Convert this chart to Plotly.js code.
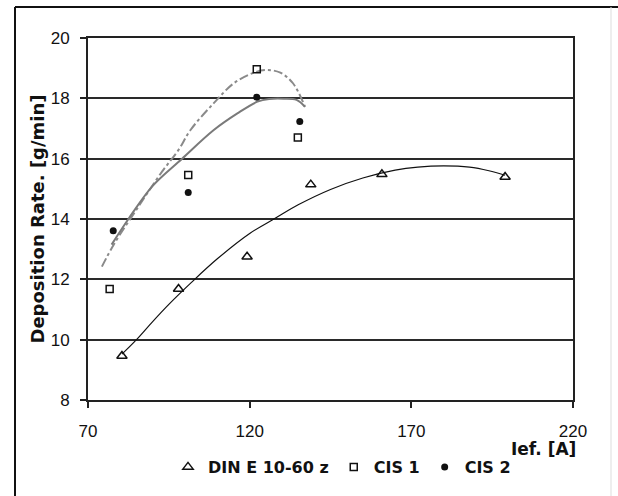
<!DOCTYPE html>
<html>
<head>
<meta charset="utf-8">
<script src="https://cdn.plot.ly/plotly-3.0.1.min.js"></script>
<style>html,body{margin:0;padding:0;background:#fff;}#chart{width:618px;height:496px;}</style>
</head>
<body>
<div id="chart"></div>
<script>
// Measured points
const dinX = [80.5, 98.0, 119.2, 138.9, 160.9, 199.0];
const dinY = [9.46, 11.68, 12.75, 15.14, 15.48, 15.39];
const cis1X = [76.7, 101.0, 122.2, 134.9];
const cis1Y = [11.68, 15.46, 18.96, 16.70];
const cis2X = [77.8, 101.0, 122.2, 135.5];
const cis2Y = [13.61, 14.88, 18.04, 17.23];

// Trend lines
const dinTrendX = [80.5, 85, 90, 95, 102, 110, 120, 128, 135, 145, 155, 165, 172, 180, 188, 194, 199];
const dinTrendY = [9.52, 10.0, 10.6, 11.17, 11.9, 12.68, 13.52, 14.03, 14.47, 14.98, 15.36, 15.62, 15.72, 15.76, 15.72, 15.6, 15.45];
const cis1TrendX = [74.3, 77.9, 85.6, 92.9, 98.0, 101.7, 108.9, 115.1, 121.3, 125.2, 129.5, 133.4, 137.1];
const cis1TrendY = [12.42, 13.14, 14.41, 15.57, 16.29, 16.95, 17.84, 18.5, 18.85, 18.94, 18.85, 18.5, 17.72];
const cis2TrendX = [77.3, 82.5, 90.0, 99.1, 108.9, 116.2, 122.4, 126.0, 130.5, 134.5, 137.1];
const cis2TrendY = [13.15, 14.0, 15.1, 16.0, 16.95, 17.5, 17.89, 17.98, 17.99, 17.95, 17.72];

// Labels
const seriesNames = ["DIN E 10-60 z", "CIS 1", "CIS 2"];
const xTicks = [70, 120, 170, 220];
const yTicks = [8, 10, 12, 14, 16, 18, 20];
const xTitle = "Ief. [A]";
const yTitle = "Deposition Rate. [g/min]";

const tickFont = {family: "Liberation Sans, Arial, sans-serif", size: 17, color: "#111"};
const boldFont = {family: "DejaVu Sans, sans-serif", size: 16, color: "#111", weight: "bold"};

const traces = [
  {x: dinTrendX, y: dinTrendY, mode: "lines", line: {color: "#111", width: 1.2, shape: "spline"}, showlegend: false, hoverinfo: "skip"},
  {x: cis1TrendX, y: cis1TrendY, mode: "lines", line: {color: "#8a8a8a", width: 2, dash: "dashdot", shape: "spline"}, showlegend: false, hoverinfo: "skip"},
  {x: cis2TrendX, y: cis2TrendY, mode: "lines", line: {color: "#7a7a7a", width: 2, shape: "spline"}, showlegend: false, hoverinfo: "skip"},
  {x: dinX, y: dinY, name: seriesNames[0], mode: "markers", marker: {symbol: "triangle-up-open", size: 9, color: "#111", line: {width: 1.5, color: "#111"}}},
  {x: cis1X, y: cis1Y, name: seriesNames[1], mode: "markers", marker: {symbol: "square-open", size: 7, color: "#111", line: {width: 1.5, color: "#111"}}},
  {x: cis2X, y: cis2Y, name: seriesNames[2], mode: "markers", marker: {symbol: "circle", size: 7, color: "#111"}}
];

const W = 485, H = 362; // plot area size in px
const px = v => (v - 88) / W;
const py = v => (400 - v) / H;

const layout = {
  width: 618, height: 496,
  margin: {l: 88, r: 45, t: 38, b: 96},
  paper_bgcolor: "#fff", plot_bgcolor: "#fff",
  xaxis: {
    range: [70, 220], tickvals: xTicks, ticktext: xTicks.map(String),
    showgrid: false, zeroline: false,
    showline: true, mirror: true, linecolor: "#222", linewidth: 2,
    ticks: "outside", ticklen: 6, tickwidth: 2, tickcolor: "#222",
    tickfont: tickFont, ticklabelstandoff: 9
  },
  yaxis: {
    range: [8, 20], tickvals: yTicks, ticktext: yTicks.map(String),
    showgrid: true, gridcolor: "#2a2a2a", gridwidth: 2, zeroline: false,
    showline: true, mirror: true, linecolor: "#222", linewidth: 2,
    ticks: "outside", ticklen: 6, tickwidth: 2, tickcolor: "#222",
    tickfont: tickFont, ticklabelstandoff: 7,
    title: {text: yTitle, font: {family: "DejaVu Sans, sans-serif", size: 18, color: "#111", weight: "bold"}, standoff: 1}
  },
  showlegend: true,
  legend: {
    orientation: "h", x: px(168), xanchor: "left", y: py(467), yanchor: "middle",
    font: boldFont, bgcolor: "rgba(0,0,0,0)", traceorder: "normal"
  },
  annotations: [
    {text: xTitle, xref: "paper", yref: "paper", x: px(578), y: py(449), xanchor: "right", yanchor: "middle",
     showarrow: false, font: {family: "DejaVu Sans, sans-serif", size: 17, color: "#111", weight: "bold"}}
  ],
  shapes: [
    {type: "line", xref: "paper", yref: "paper", x0: px(15), x1: px(15), y0: py(7), y1: py(500), line: {color: "#111", width: 2}},
    {type: "line", xref: "paper", yref: "paper", x0: px(15), x1: px(620), y0: py(7), y1: py(7), line: {color: "#111", width: 2}},
    {type: "line", xref: "paper", yref: "paper", x0: px(611), x1: px(611), y0: py(7), y1: py(500), line: {color: "#ddd", width: 1}}
  ]
};

Plotly.newPlot("chart", traces, layout, {displayModeBar: false, staticPlot: true});
</script>
</body>
</html>
